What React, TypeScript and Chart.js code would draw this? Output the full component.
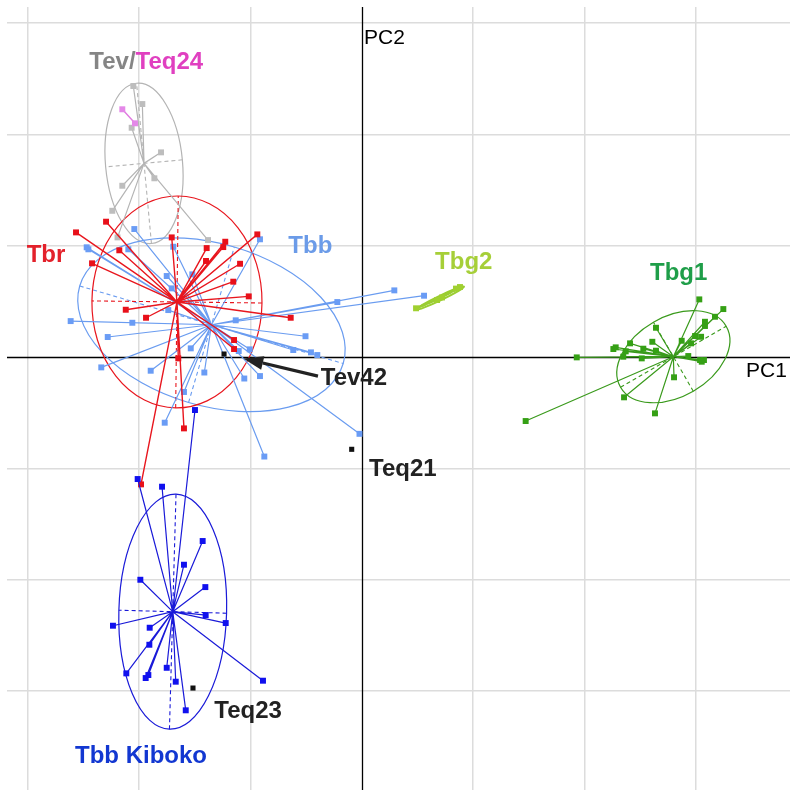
import React, { useEffect, useRef } from 'react';
import { Chart, registerables } from 'chart.js';

Chart.register(...registerables);

type Pt = [number, number];

// axis ranges (PC units)
const xRange: Pt = [-3.187, 3.848];
const yRange: Pt = [-3.89, 3.145];
const gridStep = 1;

const tevCentroid: Pt = [-1.956, 1.74];
const tevPoints: Pt[] = [
  [-2.052, 2.435], [-1.971, 2.273], [-2.067, 2.06], [-1.803, 1.839], [-1.863, 1.606],
  [-2.151, 1.539], [-2.241, 1.314], [-2.194, 1.075], [-1.381, 1.051],
];
const tevEllipse = [0.723, 0.346, 95.3]; // semi-axis a, semi-axis b, angle of a (deg)

const teq24Centroid: Pt = [-2.094, 2.163];
const teq24Points: Pt[] = [[-2.151, 2.226], [-2.037, 2.1]];

const tbbCentroid: Pt = [-1.35, 0.29];
const tbbPoints: Pt[] = [
  [-2.043, 1.15], [-2.471, 0.986], [-2.456, 0.968], [-2.097, 0.968], [-1.693, 0.991],
  [-0.914, 1.058], [-1.752, 0.728], [-1.522, 0.743], [-1.707, 0.617], [-1.738, 0.422],
  [-2.615, 0.323], [-2.061, 0.308], [-2.282, 0.18], [0.293, 0.599], [0.56, 0.551],
  [-0.219, 0.494], [-1.132, 0.33], [-0.505, 0.187], [-0.615, 0.063], [-0.456, 0.042],
  [-0.399, 0.018], [-1.105, 0.054], [-1.006, 0.069], [-1.536, 0.078], [-2.34, -0.093],
  [-1.896, -0.123], [-1.414, -0.139], [-1.055, -0.193], [-0.914, -0.171], [-1.597, -0.314],
  [-1.77, -0.59], [-0.875, -0.894], [-0.02, -0.69],
];
const tbbEllipse = [1.234, 0.728, -16.4];

const tbrCentroid: Pt = [-1.66, 0.495];
const tbrPoints: Pt[] = [
  [-2.567, 1.12], [-2.297, 1.216], [-2.178, 0.959], [-2.423, 0.842], [-1.707, 1.075],
  [-1.393, 0.979], [-1.226, 1.036], [-1.244, 0.988], [-0.938, 1.102], [-1.399, 0.863],
  [-1.093, 0.838], [-1.154, 0.677], [-1.015, 0.545], [-0.638, 0.353], [-2.12, 0.425],
  [-1.938, 0.353], [-1.147, 0.153], [-1.147, 0.072], [-1.648, -0.012], [-1.597, -0.641],
  [-1.983, -1.144],
];
const tbrEllipse = [0.952, 0.764, 89.3];

const kibokoCentroid: Pt = [-1.698, -2.288];
const kibokoPoints: Pt[] = [
  [-2.013, -1.096], [-1.794, -1.165], [-1.429, -1.653], [-1.597, -1.866], [-1.989, -2.001],
  [-1.405, -2.067], [-1.402, -2.318], [-1.222, -2.39], [-2.235, -2.414], [-1.905, -2.432],
  [-1.908, -2.585], [-2.115, -2.842], [-1.917, -2.857], [-1.941, -2.884], [-1.752, -2.792],
  [-1.671, -2.917], [-1.581, -3.174], [-0.887, -2.908], [-1.498, -0.476],
];
const kibokoEllipse = [1.056, 0.484, 88.4];

const tbg1Centroid: Pt = [2.8, 0.003];
const tbg1Points: Pt[] = [
  [3.033, 0.518], [3.249, 0.431], [3.174, 0.362], [3.084, 0.317], [3.084, 0.279],
  [2.995, 0.189], [3.049, 0.182], [2.959, 0.123], [2.875, 0.146], [2.644, 0.263],
  [2.611, 0.137], [2.411, 0.123], [2.261, 0.072], [2.282, 0.087], [2.372, 0.051],
  [2.53, 0.075], [2.644, 0.057], [2.35, 0.003], [2.516, -0.012], [1.932, -0.003],
  [2.934, 0.009], [3.04, -0.027], [3.075, -0.027], [3.055, -0.042], [2.806, -0.182],
  [2.357, -0.362], [2.635, -0.506], [1.473, -0.575],
];
const tbg1Ellipse = [0.548, 0.358, 30];

const tbg2Centroid: Pt = [0.704, 0.53];
const tbg2Points: Pt[] = [[0.488, 0.438], [0.677, 0.512], [0.721, 0.535], [0.847, 0.615], [0.883, 0.629]];
const tbg2Ellipse = [0.239, 0.02, 25.6];

const singleNames = ['Tev42', 'Teq21', 'Teq23'];
const singlePoints: Pt[] = [[-1.237, 0.027], [-0.09, -0.829], [-1.516, -2.974]];

const labelTexts = ['Tbr', 'Tbb', 'Tbg2', 'Tbg1', 'Tev42', 'Teq21', 'Teq23', 'Tbb Kiboko'];
const labelPos: Pt[] = [
  [-3.01, 0.856], [-0.659, 0.932], [0.659, 0.791], [2.59, 0.692],
  [-0.368, -0.252], [0.066, -1.069], [-1.324, -3.246], [-2.576, -3.65],
];
const labelColors = ['#e3212b', '#6b9be8', '#a6cf38', '#1f9e49', '#222222', '#222222', '#222222', '#1237d1'];
const tevLabelParts = ['Tev/', 'Teq24'];
const tevLabelColors = ['#858585', '#e040c0'];
const tevLabelPos: Pt = [-2.447, 2.585];

const axisTitles = ['PC1', 'PC2'];
const axisTitlePos: Pt[] = [[3.453, -0.182], [0.021, 2.812]];

const arrowFrom: Pt = [-0.393, -0.171];
const arrowTo: Pt = [-1.064, -0.012];

type Group = {
  c: Pt; pts: Pt[]; ell: number[] | null; line: string; mark: string; w: number;
};

const groups: Group[] = [
  { c: tevCentroid, pts: tevPoints, ell: tevEllipse, line: '#b4b4b4', mark: '#bdbdbd', w: 1.2 },
  { c: tbbCentroid, pts: tbbPoints, ell: tbbEllipse, line: '#6a9cf0', mark: '#6a9cf5', w: 1.2 },
  { c: tbrCentroid, pts: tbrPoints, ell: tbrEllipse, line: '#e8161e', mark: '#e8101a', w: 1.4 },
  { c: kibokoCentroid, pts: kibokoPoints, ell: kibokoEllipse, line: '#1a1ad8', mark: '#1010ee', w: 1.2 },
  { c: tbg1Centroid, pts: tbg1Points, ell: tbg1Ellipse, line: '#3a9a1c', mark: '#35a015', w: 1.2 },
  { c: tbg2Centroid, pts: tbg2Points, ell: tbg2Ellipse, line: '#9acd32', mark: '#a0d030', w: 2.5 },
  { c: teq24Centroid, pts: teq24Points, ell: null, line: '#e07ae0', mark: '#e488e8', w: 1.4 },
];

const FONT = '"Liberation Sans", Arial, Helvetica, sans-serif';

const overlayPlugin = {
  id: 'overlay',
  beforeDatasetsDraw(chart: any) {
    const { ctx, chartArea, scales } = chart;
    const xs = scales.x, ys = scales.y;
    const sx = xs.getPixelForValue(1) - xs.getPixelForValue(0);
    const sy = ys.getPixelForValue(0) - ys.getPixelForValue(1);
    ctx.save();
    // axis lines
    ctx.strokeStyle = '#000';
    ctx.lineWidth = 1.3;
    ctx.beginPath();
    const x0 = Math.round(xs.getPixelForValue(0)) + 0.5;
    const y0 = Math.round(ys.getPixelForValue(0)) + 0.5;
    ctx.moveTo(x0, chartArea.top);
    ctx.lineTo(x0, chartArea.bottom);
    ctx.moveTo(chartArea.left, y0);
    ctx.lineTo(chartArea.right, y0);
    ctx.stroke();
    // ellipses
    groups.forEach((g) => {
      if (!g.ell) return;
      const [a, b, ang] = g.ell;
      const cx = xs.getPixelForValue(g.c[0]);
      const cy = ys.getPixelForValue(g.c[1]);
      const rad = (ang * Math.PI) / 180;
      ctx.save();
      ctx.translate(cx, cy);
      ctx.scale(sx, -sy);
      ctx.rotate(rad);
      ctx.beginPath();
      ctx.ellipse(0, 0, a, b, 0, 0, Math.PI * 2);
      ctx.restore();
      ctx.strokeStyle = g.line;
      ctx.lineWidth = g === groups[5] ? 2 : 1.2;
      ctx.setLineDash([]);
      ctx.stroke();
      ctx.save();
      ctx.translate(cx, cy);
      ctx.scale(sx, -sy);
      ctx.rotate(rad);
      ctx.beginPath();
      ctx.moveTo(-a, 0);
      ctx.lineTo(a, 0);
      ctx.moveTo(0, -b);
      ctx.lineTo(0, b);
      ctx.restore();
      ctx.setLineDash([4, 3]);
      ctx.lineWidth = 1.1;
      ctx.stroke();
      ctx.setLineDash([]);
    });
    ctx.restore();
  },
  afterDatasetsDraw(chart: any) {
    const { ctx, scales } = chart;
    const xs = scales.x, ys = scales.y;
    ctx.save();
    ctx.textBaseline = 'alphabetic';
    ctx.textAlign = 'left';
    ctx.font = `bold 24px ${FONT}`;
    labelTexts.forEach((t, i) => {
      ctx.fillStyle = labelColors[i];
      ctx.fillText(t, xs.getPixelForValue(labelPos[i][0]), ys.getPixelForValue(labelPos[i][1]));
    });
    let tx = xs.getPixelForValue(tevLabelPos[0]);
    const ty = ys.getPixelForValue(tevLabelPos[1]);
    tevLabelParts.forEach((t, i) => {
      ctx.fillStyle = tevLabelColors[i];
      ctx.fillText(t, tx, ty);
      tx += ctx.measureText(t).width;
    });
    ctx.font = `21px ${FONT}`;
    ctx.fillStyle = '#000';
    axisTitles.forEach((t, i) => {
      ctx.fillText(t, xs.getPixelForValue(axisTitlePos[i][0]), ys.getPixelForValue(axisTitlePos[i][1]));
    });
    // arrow
    const fx = xs.getPixelForValue(arrowFrom[0]), fy = ys.getPixelForValue(arrowFrom[1]);
    const tx2 = xs.getPixelForValue(arrowTo[0]), ty2 = ys.getPixelForValue(arrowTo[1]);
    const ang = Math.atan2(ty2 - fy, tx2 - fx);
    const headLen = 20, headW = 7;
    const bx = tx2 - headLen * Math.cos(ang), by = ty2 - headLen * Math.sin(ang);
    ctx.strokeStyle = '#222';
    ctx.fillStyle = '#222';
    ctx.lineWidth = 3.2;
    ctx.beginPath();
    ctx.moveTo(fx, fy);
    ctx.lineTo(bx, by);
    ctx.stroke();
    ctx.beginPath();
    ctx.moveTo(tx2, ty2);
    ctx.lineTo(bx + headW * Math.sin(ang), by - headW * Math.cos(ang));
    ctx.lineTo(bx - headW * Math.sin(ang), by + headW * Math.cos(ang));
    ctx.closePath();
    ctx.fill();
    ctx.restore();
  },
};

export default function App() {
  const ref = useRef<HTMLCanvasElement | null>(null);
  useEffect(() => {
    document.body.style.margin = '0';
    if (!ref.current) return;
    const datasets: any[] = [];
    groups.forEach((g) => {
      datasets.push({
        type: 'scatter',
        data: g.pts.flatMap((p) => [{ x: g.c[0], y: g.c[1] }, { x: p[0], y: p[1] }]),
        showLine: true,
        borderColor: g.line,
        borderWidth: g.w,
        borderJoinStyle: 'round',
        pointRadius: 0,
        pointHoverRadius: 0,
      });
      datasets.push({
        type: 'scatter',
        data: g.pts.map((p) => ({ x: p[0], y: p[1] })),
        showLine: false,
        pointStyle: 'rect',
        pointRadius: 4.2,
        pointBackgroundColor: g.mark,
        pointBorderWidth: 0,
        backgroundColor: g.mark,
        borderWidth: 0,
      });
    });
    datasets.push({
      type: 'scatter',
      label: singleNames.join(','),
      data: singlePoints.map((p) => ({ x: p[0], y: p[1] })),
      showLine: false,
      pointStyle: 'rect',
      pointRadius: 3.6,
      pointBackgroundColor: '#111',
      pointBorderWidth: 0,
      borderWidth: 0,
    });
    datasets.forEach((d, i) => { d.order = -i; });

    const gridColor = (c: any) => (c.tick && c.tick.value === 0 ? 'rgba(0,0,0,0)' : '#dcdcdc');
    const chart = new Chart(ref.current, {
      type: 'scatter',
      data: { datasets },
      plugins: [overlayPlugin],
      options: {
        responsive: false,
        animation: false,
        devicePixelRatio: 1,
        events: [],
        layout: { autoPadding: false, padding: { left: 7, right: 7, top: 7, bottom: 5 } },
        plugins: { legend: { display: false }, tooltip: { enabled: false } },
        scales: {
          x: {
            type: 'linear', min: xRange[0], max: xRange[1],
            ticks: { display: false, stepSize: gridStep, includeBounds: false },
            grid: { color: gridColor, lineWidth: 1.5, drawTicks: false },
            border: { display: false },
          },
          y: {
            type: 'linear', min: yRange[0], max: yRange[1],
            ticks: { display: false, stepSize: gridStep, includeBounds: false },
            grid: { color: gridColor, lineWidth: 1.5, drawTicks: false },
            border: { display: false },
          },
        },
      } as any,
    });
    return () => chart.destroy();
  }, []);
  return (
    <div style={{ position: 'fixed', left: 0, top: 0, width: 797, height: 795, background: '#fff' }}>
      <canvas ref={ref} width={797} height={795} style={{ display: 'block' }} />
    </div>
  );
}
